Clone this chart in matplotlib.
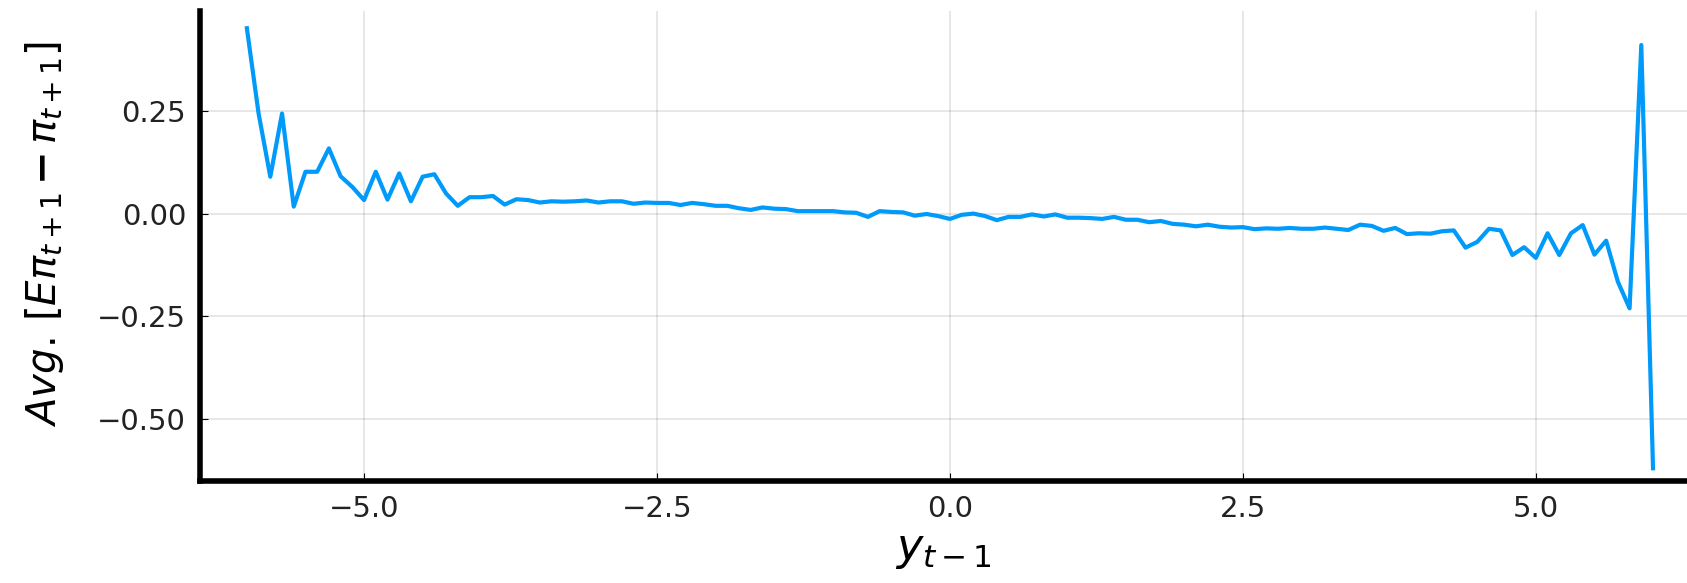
import numpy as np
import matplotlib
matplotlib.use("Agg")
from matplotlib import pyplot as plt

# lagged output grid and the average expectation error at each point
y_prev = np.round(np.arange(-60, 61) / 10.0, 1)
avg_err = [
    0.452, 0.244, 0.090, 0.244, 0.017, 0.102, 0.102, 0.159, 0.091, 0.065,   # -6.0 .. -5.1
    0.033, 0.102, 0.034, 0.098, 0.030, 0.090, 0.096, 0.049, 0.019, 0.040,   # -5.0 .. -4.1
    0.040, 0.043, 0.022, 0.035, 0.033, 0.027, 0.030, 0.029, 0.030, 0.032,   # -4.0 .. -3.1
    0.027, 0.030, 0.030, 0.024, 0.027, 0.026, 0.026, 0.021, 0.026, 0.023,   # -3.0 .. -2.1
    0.019, 0.019, 0.013, 0.009, 0.015, 0.012, 0.011, 0.006, 0.006, 0.006,   # -2.0 .. -1.1
    0.006, 0.003, 0.002, -0.008, 0.006, 0.004, 0.003, -0.005, -0.001, -0.006,  # -1.0 .. -0.1
    -0.013, -0.003, 0.000, -0.006, -0.016, -0.008, -0.008, -0.002, -0.007, -0.002,  # 0.0 .. 0.9
    -0.010, -0.010, -0.011, -0.013, -0.008, -0.015, -0.015, -0.021, -0.018, -0.025,  # 1.0 .. 1.9
    -0.027, -0.031, -0.027, -0.032, -0.034, -0.033, -0.038, -0.036, -0.037, -0.035,  # 2.0 .. 2.9
    -0.037, -0.037, -0.034, -0.037, -0.040, -0.027, -0.030, -0.042, -0.035, -0.050,  # 3.0 .. 3.9
    -0.048, -0.049, -0.043, -0.041, -0.083, -0.069, -0.037, -0.041, -0.101, -0.082,  # 4.0 .. 4.9
    -0.108, -0.048, -0.101, -0.048, -0.028, -0.100, -0.066, -0.166, -0.231, 0.411,   # 5.0 .. 5.9
    -0.621,                                                                          # 6.0
]
x_ticks = [-5.0, -2.5, 0.0, 2.5, 5.0]
y_ticks = [-0.50, -0.25, 0.00, 0.25]

fig = plt.figure(figsize=(16.87, 5.83), dpi=100)
ax = fig.add_axes([200 / 1687, 102 / 583, 1487 / 1687, 470 / 583])

ax.plot(y_prev, avg_err, color="#009AFA", lw=3.0, solid_joinstyle="round")

ax.set_xlim(-6.40, 6.29)
ax.set_ylim(-0.652, 0.494)
ax.set_xticks(x_ticks)
ax.set_xticklabels([f"{t:.1f}".replace("-", "\u2212") for t in x_ticks])
ax.set_yticks(y_ticks)
ax.set_yticklabels([f"{t:.2f}".replace("-", "\u2212") for t in y_ticks])

ax.grid(True, color="#000000", alpha=0.1, lw=1.3)
ax.set_axisbelow(True)
for side in ("top", "right"):
    ax.spines[side].set_visible(False)
for side in ("left", "bottom"):
    ax.spines[side].set_linewidth(4)
    ax.spines[side].set_color("black")
ax.tick_params(direction="in", length=6, width=0.8, labelsize=21, pad=10, colors="black")
for lab in ax.get_xticklabels() + ax.get_yticklabels():
    lab.set_color("#222222")

ax.set_xlabel(r"$y_{t-1}$", fontsize=32, labelpad=4)
ax.set_ylabel(r"$Avg.\,[E\pi_{t+1}\,\mathbf{-}\,\pi_{t+1}]$", fontsize=29)
ax.yaxis.set_label_coords(-0.090, 0.525)

fig.savefig("out.png", dpi=100)
